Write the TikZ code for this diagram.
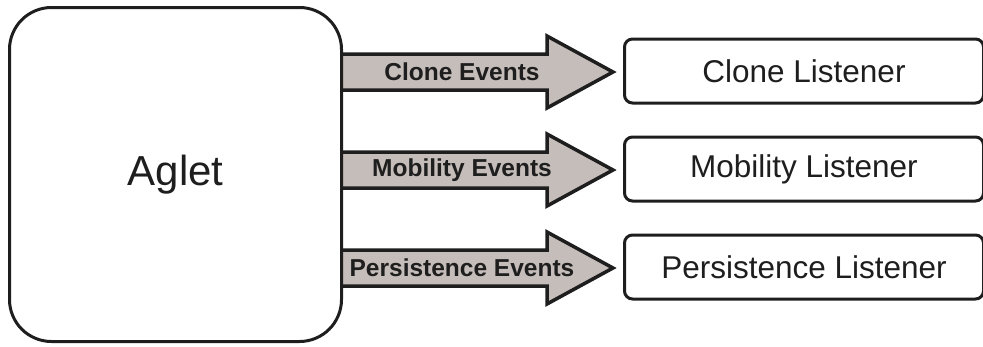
\documentclass[tikz,border=0pt]{standalone}
\usepackage{fontspec}
\setmainfont{Liberation Sans}
\usetikzlibrary{calc}
\definecolor{arrowgray}{RGB}{197,189,186}
\definecolor{inkgray}{RGB}{30,30,30}
\begin{document}
\begin{tikzpicture}[x=1pt,y=-1pt,
                    agletbox/.style={draw=inkgray,line width=3pt,rounded corners=42pt,minimum width=332pt,minimum height=334pt,font=\fontsize{42}{44}\selectfont,text=inkgray},
                    listener/.style={draw=inkgray,line width=3pt,rounded corners=8pt,minimum width=359pt,minimum height=64pt,font=\fontsize{31.5}{33}\selectfont,text=inkgray},
                    eventarrow/.style={draw=inkgray,line width=3.5pt,fill=arrowgray,line join=miter},
                    eventlabel/.style={font=\bfseries\fontsize{24.5}{26}\selectfont,text=inkgray}
                   ]
  \useasboundingbox (0,0) rectangle (983,346);

  % listeners and their event arrows
  \foreach \kind [count=\i] in {Clone,Mobility,Persistence} {
    \node[listener] (l\i) at (804,{-27+98*\i}) {\kind{} Listener};
    \coordinate (s\i) at (343,{-26+98*\i});
    \coordinate (t\i) at ($(l\i.west)+(-10,1)$);
    \draw[eventarrow] ($(s\i)+(0,-18)$) -- ($(t\i)+(-66,-18)$) -- ($(t\i)+(-66,-36)$)
      -- (t\i) -- ($(t\i)+(-66,36)$) -- ($(t\i)+(-66,18)$) -- ($(s\i)+(0,18)$);
    \node[eventlabel] (e\i) at ($(s\i)!0.5!(t\i)+(-16,0)$) {\kind{} Events};
  }

  \node[agletbox] (aglet) at (175.5,174.5) {Aglet};
\end{tikzpicture}
\end{document}
